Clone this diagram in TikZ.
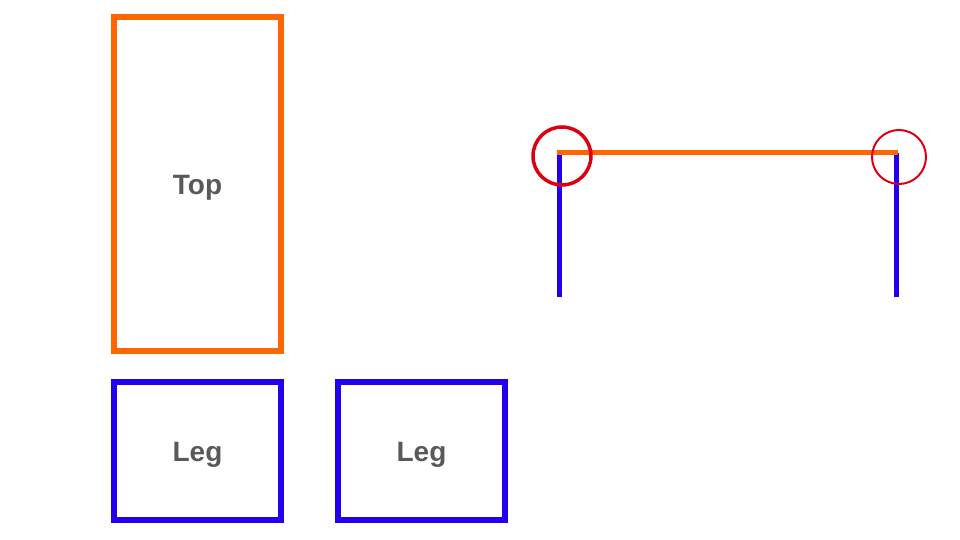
\documentclass[tikz,border=0pt]{standalone}
\usepackage{fontspec}
\setmainfont{Liberation Sans}
\usetikzlibrary{positioning}
\definecolor{toporange}{HTML}{FF6600}
\definecolor{legblue}{HTML}{2200EE}
\definecolor{jointred}{HTML}{DD0011}
\definecolor{labelgray}{HTML}{595959}

\begin{document}
\begin{tikzpicture}[x=1pt, y=-1pt,
  part/.style={draw, line width=6pt, inner sep=0pt, text height=26pt, text depth=6pt,
    font=\bfseries\fontsize{28}{32}\selectfont, text=labelgray},
  joint/.style={draw=jointred, circle, inner sep=0pt}]
  \useasboundingbox (0,0) rectangle (960,540);
  % 零件：桌面与两条腿
  \node[part, draw=toporange, minimum width=167pt, minimum height=334pt] (top) at (197.5,184) {Top};
  \node[part, draw=legblue, minimum width=167pt, minimum height=138pt] (legA) at (197.5,451) {Leg};
  \node[part, draw=legblue, minimum width=167pt, minimum height=138pt] (legB) at (421.5,451) {Leg};
  % 组装后的桌子（侧视）
  \coordinate (TL) at (557,153);
  \coordinate (TR) at (898,153);
  \coordinate (LA1) at (559,153);
  \coordinate (LA2) at (559,297);
  \coordinate (LB1) at (896,153);
  \coordinate (LB2) at (896,297);
  \draw[legblue, line width=5pt] (LA1) -- (LA2);
  \draw[legblue, line width=5pt] (LB1) -- (LB2);
  \draw[toporange, line width=5pt] (TL) -- (TR);
  % 连接处
  \node[joint, line width=3.5pt, minimum size=58pt] (jointA) at (562,156) {};
  \node[joint, line width=2pt, minimum size=54pt] (jointB) at (899,157) {};
\end{tikzpicture}
\end{document}
